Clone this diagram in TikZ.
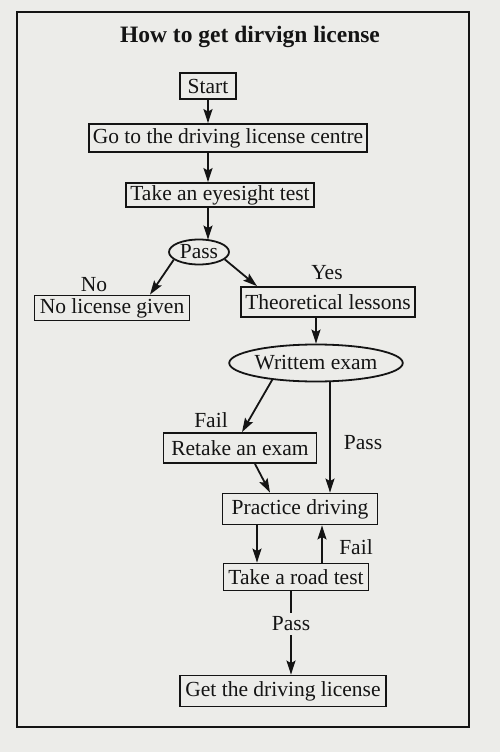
\documentclass[tikz,border=0pt]{standalone}
\usepackage{fontspec}
\setmainfont{Liberation Serif}
\usetikzlibrary{shapes.geometric,arrows.meta}
\definecolor{paper}{RGB}{236,236,233}
\definecolor{ink}{RGB}{20,20,20}
\tikzset{
  box/.style={draw=ink, line width=1.8pt, rectangle, inner xsep=4pt, inner ysep=0pt, font=\fontsize{21.5}{21.5}\selectfont, text=ink, fill=paper},
  oval/.style={draw=ink, line width=1.8pt, ellipse, inner sep=0pt, font=\fontsize{21.5}{21.5}\selectfont, text=ink, fill=paper},
  lbl/.style={font=\fontsize{21.5}{21.5}\selectfont, text=ink, inner sep=1pt},
  arr/.style={draw=ink, line width=1.8pt, -{Stealth[length=14pt,width=9pt,inset=2.5pt]}},
  plain/.style={draw=ink, line width=1.8pt}
}
\begin{document}
\begin{tikzpicture}[x=1pt,y=-1pt]
\fill[paper] (0,0) rectangle (500,752);
\useasboundingbox (0,0) rectangle (500,752);
\draw[ink, line width=2.6pt] (17,12) rectangle (469,727);

\node[font=\bfseries\fontsize{23.5}{23.5}\selectfont, text=ink] (title) at (250,37) {How to get dirvign license};

\node[box, minimum width=56pt, minimum height=26pt] (start) at (208,86) {Start};
\node[box, minimum width=275pt, minimum height=28pt] (goto) at (228,138) {Go to the driving license centre};
\node[box, minimum width=182pt, minimum height=24pt] (eye) at (220,195) {Take an eyesight test};
\node[oval, minimum width=60pt, minimum height=25pt] (pass1) at (199,252) {Pass};
\node[box, minimum width=155pt, minimum height=25pt] (nolic) at (112,308) {No license given};
\node[box, minimum width=174pt, minimum height=30pt] (theo) at (328,302) {Theoretical lessons};
\node[oval, minimum width=160pt, minimum height=37pt] (written) at (316,363) {Writtem exam};
\node[box, minimum width=153pt, minimum height=30pt] (retake) at (240,448) {Retake an exam};
\node[box, minimum width=155pt, minimum height=31pt] (practice) at (300,509) {Practice driving};
\node[box, minimum width=145pt, minimum height=27pt] (road) at (296,577) {Take a road test};
\node[box, minimum width=206pt, minimum height=31pt] (get) at (283,691) {Get the driving license};

\node[lbl] (lno) at (94,285) {No};
\node[lbl] (lyes) at (327,273) {Yes};
\node[lbl] (lfail1) at (211,420) {Fail};
\node[lbl] (lpass1) at (363,443) {Pass};
\node[lbl] (lfail2) at (356,547) {Fail};

\draw[arr] (start.south) -- (start.south |- goto.north);
\draw[arr] (goto.south -| start) -- (eye.north -| start);
\draw[arr] (eye.south -| start) -- ([yshift=-1pt]pass1.north -| start);
\draw[arr] (pass1.197) -- ([xshift=38pt]nolic.north);
\draw[arr] (pass1.-16) -- ([xshift=-71pt]theo.north);
\draw[arr] (theo.south -| written) -- (written.north);
\draw[arr] (written.201) -- ([xshift=2pt]retake.north);
\draw[arr] ([xshift=14pt]written.south) -- ([xshift=30pt]practice.north);
\draw[arr] ([xshift=15pt]retake.south) -- ([xshift=-30pt]practice.north);
\draw[arr] ([xshift=-43pt]practice.south) -- ([xshift=-43pt]practice.south |- road.north);
\draw[arr] ([xshift=26pt]road.north) -- ([xshift=26pt]road.north |- practice.south);
\draw[arr] ([xshift=-5pt]road.south) -- node[lbl, fill=paper, inner ysep=4pt, pos=0.39] (lpass2) {Pass} ([xshift=8pt]get.north);
\end{tikzpicture}
\end{document}
